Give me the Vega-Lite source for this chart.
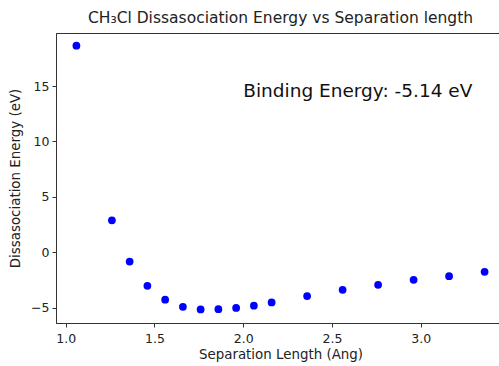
{
  "$schema": "https://vega.github.io/schema/vega-lite/v6.json",
  "width": 449,
  "height": 290,
  "autosize": "none",
  "padding": {"left": 56, "top": 33, "right": 0, "bottom": 43},
  "background": "white",
  "config": {
    "font": "DejaVu Sans",
    "view": {"stroke": "#333333", "strokeWidth": 1},
    "axis": {
      "grid": false,
      "domainColor": "#333333",
      "tickColor": "#333333",
      "tickSize": 4,
      "labelColor": "#222222",
      "titleColor": "#222222",
      "labelFontSize": 12.5,
      "titleFontSize": 13.4,
      "titleFontWeight": "normal",
      "labelFont": "DejaVu Sans",
      "titleFont": "DejaVu Sans"
    }
  },
  "title": {
    "text": "CH₃Cl Dissasociation Energy vs Separation length",
    "fontSize": 15.5,
    "fontWeight": "normal",
    "font": "DejaVu Sans",
    "color": "#222222",
    "anchor": "middle",
    "offset": 7
  },
  "datasets": {
    "pts": [
      {"length": 1.06, "energy": 18.65},
      {"length": 1.26, "energy": 2.88},
      {"length": 1.36, "energy": -0.84},
      {"length": 1.46, "energy": -3.03},
      {"length": 1.56, "energy": -4.29},
      {"length": 1.66, "energy": -4.93},
      {"length": 1.76, "energy": -5.17},
      {"length": 1.86, "energy": -5.14},
      {"length": 1.96, "energy": -5.03},
      {"length": 2.06, "energy": -4.83},
      {"length": 2.16, "energy": -4.53},
      {"length": 2.36, "energy": -3.96},
      {"length": 2.56, "energy": -3.39},
      {"length": 2.76, "energy": -2.94},
      {"length": 2.96, "energy": -2.49},
      {"length": 3.16, "energy": -2.16},
      {"length": 3.36, "energy": -1.77}
    ],
    "note": [
      {"length": 2.0, "energy": 14, "label": "Binding Energy: -5.14 eV"}
    ]
  },
  "layer": [
    {
      "data": {"name": "pts"},
      "mark": {"type": "point", "filled": true, "color": "#0000ff", "opacity": 1, "size": 60},
      "encoding": {
        "x": {
          "field": "length",
          "type": "quantitative",
          "title": "Separation Length (Ang)",
          "scale": {"domain": [0.945, 3.475], "nice": false, "zero": false},
          "axis": {"values": [1.0, 1.5, 2.0, 2.5, 3.0], "format": ".1f", "labelPadding": 5, "titlePadding": 3}
        },
        "y": {
          "field": "energy",
          "type": "quantitative",
          "title": "Dissasociation Energy (eV)",
          "scale": {"domain": [-6.39, 19.79], "nice": false, "zero": false},
          "axis": {"values": [-5, 0, 5, 10, 15], "format": "d", "labelPadding": 3, "titlePadding": 8}
        }
      }
    },
    {
      "data": {"name": "note"},
      "mark": {"type": "text", "align": "left", "baseline": "alphabetic", "fontSize": 18.5, "font": "DejaVu Sans", "color": "#111111"},
      "encoding": {
        "x": {"field": "length", "type": "quantitative"},
        "y": {"field": "energy", "type": "quantitative"},
        "text": {"field": "label"}
      }
    }
  ]
}
